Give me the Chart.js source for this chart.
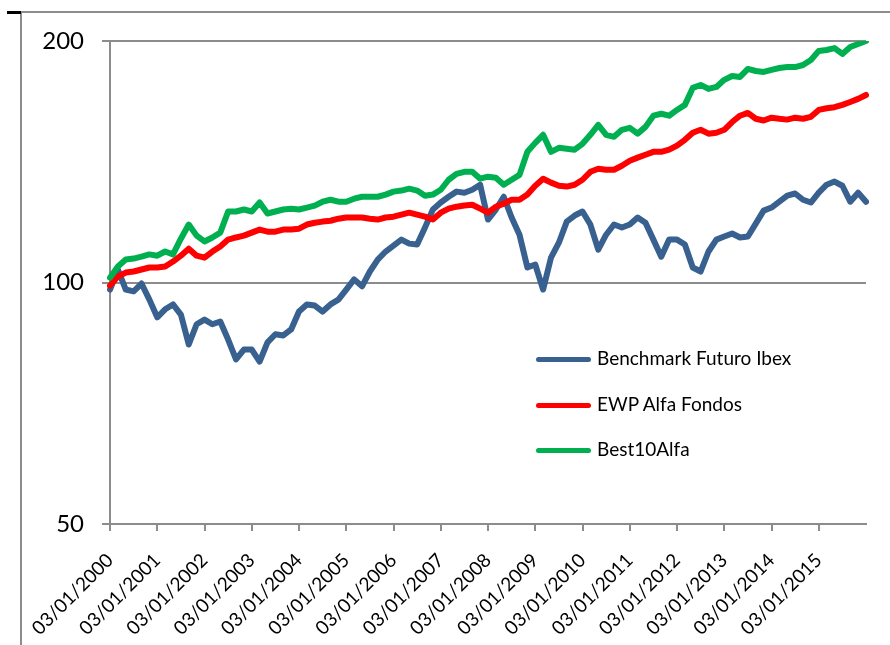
<!DOCTYPE html>
<html>
<head>
<meta charset="utf-8">
<script src="https://cdn.jsdelivr.net/npm/chart.js@4/dist/chart.umd.min.js"></script>
<style>
  body { margin: 0; background: #fff; }
  #wrap { position: relative; width: 890px; height: 645px; overflow: hidden; }
  #frame { position: absolute; left: 20px; top: 11px; width: 880px; height: 640px;
           border-left: 2px solid #8c8c8c; border-top: 2px solid #8c8c8c; }
  #mark { position: absolute; left: 7px; top: 11px; width: 14px; height: 3px; background: #000; }
  #legend { position: absolute; left: 536px; top: 346px; font-family: Lato, "Open Sans", sans-serif;
            font-size: 19px; color: #000; }
  .item { height: 45.5px; display: flex; align-items: flex-start; }
  .swatch { width: 55px; height: 5px; border-radius: 3px; margin-top: 11px; margin-right: 6px; }
</style>
</head>
<body>
<div id="wrap">
  <div id="frame"></div>
  <div id="mark"></div>
  <canvas id="myChart" width="890" height="645"></canvas>
  <div id="legend"></div>
</div>
<script>
// every 2 months from Jan 2000 to Jan 2016
const months = [];
for (let i = 0; i <= 192; i += 2) {
    months.push(String(i % 12 + 1).padStart(2, '0') + '/' + (2000 + Math.floor(i / 12)));
}

const tickLabels = ['03/01/2000','03/01/2001','03/01/2002','03/01/2003','03/01/2004','03/01/2005',
    '03/01/2006','03/01/2007','03/01/2008','03/01/2009','03/01/2010','03/01/2011',
    '03/01/2012','03/01/2013','03/01/2014','03/01/2015'];

const yTicks = [50, 100, 200];

const seriesNames = ['Benchmark Futuro Ibex', 'EWP Alfa Fondos', 'Best10Alfa'];
const seriesColors = ['#38618f', '#ff0000', '#00b050'];

const benchmark = [98.0,103.8,98.0,97.5,99.7,95.2,90.5,92.6,93.9,91.2,
    83.7,88.7,89.9,88.7,89.4,84.9,80.2,82.5,82.5,79.7,
    84.2,86.2,85.9,87.4,92.0,93.9,93.6,92.0,93.9,95.2,
    98.0,100.9,98.9,103.2,106.8,109.3,111.2,113.1,111.8,111.5,
    117.1,123.3,125.8,127.9,129.8,129.4,130.5,132.4,119.8,123.3,
    127.9,120.5,114.7,104.4,105.3,98.0,107.4,112.1,119.1,121.2,
    122.6,118.1,109.9,114.7,118.1,117.1,118.1,120.5,118.7,113.1,
    107.7,113.1,113.1,111.5,104.4,103.2,109.3,113.1,114.1,115.1,
    113.8,114.1,118.4,122.9,124.0,126.1,128.3,129.1,126.8,125.8,
    129.4,132.4,133.6,132.0,126.1,129.4,126.1];

const ewp = [99.1,101.7,102.9,103.2,103.8,104.4,104.4,104.7,106.2,108.0,
    110.2,108.0,107.4,109.3,110.9,113.1,113.8,114.4,115.4,116.4,
    115.7,115.7,116.4,116.4,116.7,118.1,118.7,119.1,119.4,120.1,
    120.5,120.5,120.5,120.1,119.8,120.5,120.8,121.5,122.2,121.5,
    120.8,119.8,122.2,123.6,124.3,124.7,125.0,123.6,122.2,124.3,
    125.4,126.8,126.8,128.7,132.0,134.7,133.2,132.0,131.7,132.4,
    134.3,137.4,138.6,138.2,138.2,139.8,141.8,143.1,144.3,145.5,
    145.5,146.4,148.1,150.6,153.7,155.0,153.3,153.7,155.0,158.5,
    161.4,162.7,160.0,159.2,160.5,160.0,159.6,160.5,160.0,160.9,
    164.1,164.9,165.4,166.5,167.9,169.4,171.3];

const best10 = [101.4,104.7,106.8,107.1,107.7,108.4,108.0,109.3,108.4,113.4,
    118.1,114.4,112.5,113.8,115.4,122.6,122.6,123.3,122.6,125.8,
    121.9,122.6,123.3,123.6,123.3,124.0,124.7,126.1,126.8,126.1,
    126.1,127.2,127.9,127.9,127.9,128.7,129.8,130.2,130.9,130.2,
    128.3,128.7,130.5,134.3,136.6,137.4,137.4,134.7,135.5,135.1,
    132.4,134.3,136.2,145.5,149.3,152.8,145.5,147.2,146.8,146.4,
    148.9,152.8,157.2,152.8,151.9,155.0,155.9,153.3,156.3,161.4,
    162.3,161.4,164.1,166.5,174.8,176.3,174.3,175.3,178.9,180.9,
    180.4,184.6,183.5,183.0,184.1,185.1,185.6,185.6,186.7,189.4,
    194.4,194.9,196.0,192.7,196.6,198.3,200.0];

window.addEventListener("load", function(){
    drawChart();
    drawLegend();
});

function drawChart() {
    const gridGray = '#8c8c8c';
    const ctx = document.getElementById('myChart').getContext('2d');
    new Chart(ctx, {
        type: 'line',
        data: {
            labels: months,
            datasets: [benchmark, ewp, best10].map((d, i) => ({
                label: seriesNames[i],
                data: d,
                borderColor: seriesColors[i],
                backgroundColor: seriesColors[i],
                borderWidth: 6,
                pointRadius: 0,
                tension: 0,
                borderJoinStyle: 'round',
                borderCapStyle: 'round',
                order: 3 - i
            }))
        },
        options: {
            responsive: false,
            animation: false,
            layout: { padding: { top: 41, right: 24, left: 0, bottom: 0 } },
            plugins: { legend: { display: false }, tooltip: { enabled: false } },
            scales: {
                x: {
                    type: 'category',
                    offset: false,
                    border: { display: true, color: gridGray, width: 2 },
                    grid: { display: true, drawOnChartArea: false, drawTicks: true, tickLength: 7, color: gridGray, lineWidth: 2 },
                    ticks: {
                        autoSkip: false,
                        minRotation: 45,
                        maxRotation: 45,
                        padding: 18,
                        color: '#000',
                        font: { family: 'Lato', size: 19 },
                        callback: function(val, index) {
                            return index % 6 === 0 ? tickLabels[index / 6] : null;
                        }
                    },
                    afterFit: function(scale) { scale.height = 121; }
                },
                y: {
                    type: 'logarithmic',
                    min: 50,
                    max: 200,
                    border: { display: true, color: gridGray, width: 2 },
                    grid: { color: gridGray, lineWidth: 2, tickLength: 8 },
                    afterBuildTicks: function(scale) {
                        scale.ticks = yTicks.map(v => ({ value: v }));
                    },
                    ticks: {
                        padding: 18,
                        color: '#000',
                        font: { family: 'Lato', size: 24 },
                        callback: function(val) { return String(val); }
                    },
                    afterFit: function(scale) { scale.width = 110; }
                }
            }
        }
    });
}

function drawLegend() {
    const legend = document.getElementById('legend');
    for (let i = 0; i < seriesNames.length; i++) {
        legend.innerHTML += `
        <div class="item">
            <div class="swatch" style="background:${seriesColors[i]}"></div>
            <div>${seriesNames[i]}</div>
        </div>`;
    }
}
</script>
</body>
</html>
